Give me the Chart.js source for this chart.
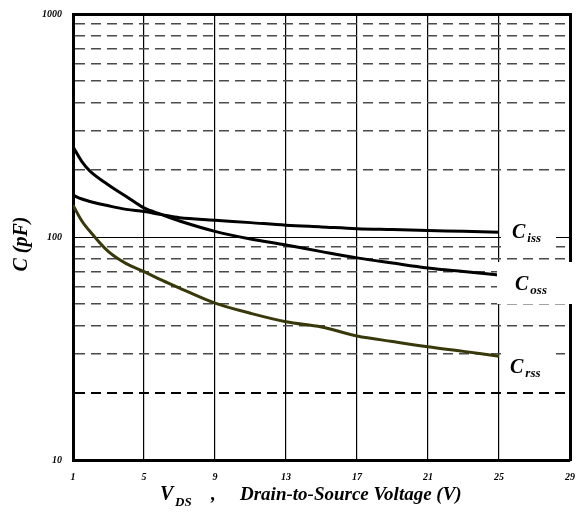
<!DOCTYPE html>
<html>
<head>
<meta charset="utf-8">
<script src="https://cdn.jsdelivr.net/npm/chart.js"></script>
<style>
  html, body { margin: 0; padding: 0; background: #fff; }
  #wrap { width: 579px; height: 517px; }
</style>
</head>
<body>
<div id="wrap"><canvas id="myChart"></canvas></div>
<script>
// V_DS (V) and capacitances (pF)
const vds  = [1, 1.5, 2, 3, 4, 5, 6, 7, 9, 11, 13, 15, 17, 19, 21, 23, 25];
const ciss = [154, 148, 144, 138, 133, 130, 126, 122, 119, 116, 113, 111, 109, 108, 107, 106, 105];
const coss = [254, 218, 196, 171, 152, 135, 126, 118, 106, 98, 92, 86, 80.6, 76.4, 72.6, 70, 67.6];
const crss = [139, 118, 105, 86, 76, 70, 64, 59, 50.5, 45.5, 41.7, 39.5, 36, 34, 32.2, 30.7, 29.2];

const xTicks = [1, 5, 9, 13, 17, 21, 25, 29];
const yTicks = [10, 20, 30, 40, 50, 60, 70, 80, 90, 100, 200, 300, 400, 500, 600, 700, 800, 900, 1000];
const yMajor = [10, 100, 1000];

const serif = '"Liberation Serif", "DejaVu Serif", serif';

const toPoints = (vals) => vds.map((v, i) => ({x: v, y: vals[i]}));

// series name labels at the right end of each curve (white box behind, like the datasheet)
const curveLabels = [
  {sub: 'iss', vals: ciss, dx: 13, dy: 6, box: [501, 225, 55, 27]},
  {sub: 'oss', vals: coss, dx: 16, dy: 15, box: [497, 262, 82, 42]},
  {sub: 'rss', vals: crss, dx: 11, dy: 17, box: [501, 340, 55, 45]}
];

// keep the plot box where the datasheet has it
const noPad = s => { s.paddingLeft = 0; s.paddingRight = 0; s.paddingTop = 0; s.paddingBottom = 0; };

const decorations = {
  id: 'decorations',
  afterDraw(chart) {
    const ctx = chart.ctx;
    const xs = chart.scales.x, ys = chart.scales.y;
    ctx.save();
    ctx.fillStyle = '#000';
    ctx.textBaseline = 'alphabetic';

    curveLabels.forEach(l => {
      ctx.fillStyle = '#fff';
      ctx.fillRect(l.box[0], l.box[1], l.box[2], l.box[3]);
      ctx.fillStyle = '#000';
      const last = l.vals[l.vals.length - 1];
      const px = xs.getPixelForValue(vds[vds.length - 1]) + l.dx;
      const py = ys.getPixelForValue(last) + l.dy;
      ctx.font = 'italic bold 20px ' + serif;
      ctx.textAlign = 'left';
      ctx.fillText('C', px, py);
      const w = ctx.measureText('C').width;
      ctx.font = 'italic bold 13px ' + serif;
      ctx.fillText(l.sub, px + w + 2, py + 4);
    });

    // y axis title
    ctx.save();
    ctx.translate(22, 244);
    ctx.rotate(-Math.PI / 2);
    ctx.font = 'italic bold 20px ' + serif;
    ctx.textAlign = 'center';
    ctx.textBaseline = 'middle';
    ctx.fillText('C (pF)', 0, 0);
    ctx.restore();

    // x axis title with subscript
    ctx.textAlign = 'left';
    ctx.font = 'italic bold 20px ' + serif;
    ctx.fillText('V', 160, 500);
    ctx.font = 'italic bold 13px ' + serif;
    ctx.fillText('DS', 175, 506);
    ctx.font = 'italic bold 19px ' + serif;
    ctx.fillText(',', 211, 500);
    ctx.fillText('Drain-to-Source Voltage (V)', 240, 500);
    ctx.restore();
  }
};

const tickFont = {family: serif, style: 'italic', weight: 'bold', size: 10};

const lineSet = (label, vals, color) => ({
  label: label,
  data: toPoints(vals),
  borderColor: color,
  borderWidth: 3,
  pointRadius: 0,
  fill: false,
  tension: 0.35
});

new Chart(document.getElementById('myChart'), {
  type: 'line',
  data: {
    datasets: [
      lineSet('Ciss', ciss, '#000'),
      lineSet('Coss', coss, '#000'),
      lineSet('Crss', crss, '#38380a')
    ]
  },
  options: {
    responsive: true,
    maintainAspectRatio: false,
    animation: false,
    layout: {padding: 0},
    plugins: {legend: {display: false}, tooltip: {enabled: false}},
    scales: {
      x: {
        type: 'linear', position: 'bottom', min: 1, max: 29,
        afterBuildTicks: s => { s.ticks = xTicks.map(v => ({value: v})); },
        afterFit: s => { s.height = 57; noPad(s); },
        grid: {color: '#000', lineWidth: 1.2, drawTicks: false},
        border: {color: '#000', width: 3},
        ticks: {font: tickFont, color: '#000', padding: 11, maxRotation: 0, autoSkip: false}
      },
      x2: {
        type: 'linear', position: 'top', min: 1, max: 29,
        afterFit: s => { s.height = 14; noPad(s); },
        grid: {display: false},
        border: {color: '#000', width: 3},
        ticks: {display: false}
      },
      y: {
        type: 'logarithmic', position: 'left', min: 10, max: 1000,
        afterBuildTicks: s => { s.ticks = yTicks.map(v => ({value: v})); },
        afterFit: s => { s.width = 73; noPad(s); },
        grid: {
          color: c => yMajor.includes(c.tick.value) ? 'rgba(0,0,0,0)' : (c.tick.value === 20 ? '#000' : '#4a4a4a'),
          lineWidth: c => c.tick.value === 20 ? 2 : 1.5,
          drawTicks: false
        },
        border: {color: '#000', width: 3, dash: [10, 6]},
        ticks: {
          font: tickFont, color: '#000', padding: 11, autoSkip: false,
          callback: v => yMajor.includes(v) ? String(v) : ''
        }
      },
      y2: {
        type: 'logarithmic', position: 'right', min: 10, max: 1000,
        afterBuildTicks: s => { s.ticks = yMajor.map(v => ({value: v})); },
        afterFit: s => { s.width = 9; noPad(s); },
        grid: {color: '#000', lineWidth: 1, drawTicks: false},
        border: {color: '#000', width: 3},
        ticks: {display: false}
      }
    }
  },
  plugins: [decorations]
});
</script>
</body>
</html>
